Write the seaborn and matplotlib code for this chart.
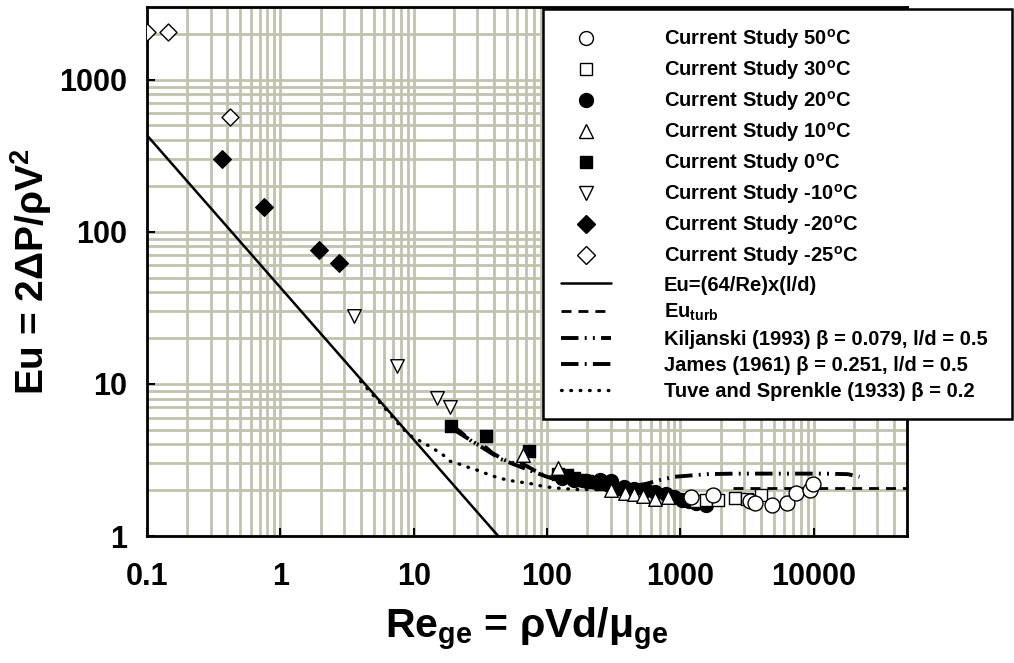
import numpy as np
import pandas as pd
import matplotlib
matplotlib.use("Agg")
import matplotlib.pyplot as plt
from matplotlib.lines import Line2D
import seaborn as sns

# ---------------- data ----------------
re_50 = [1200, 1750, 3300, 3650, 4900, 6300, 7300, 9400, 9800]
eu_50 = [1.80, 1.86, 1.70, 1.65, 1.60, 1.65, 1.92, 2.00, 2.20]

re_30 = [1300, 1550, 1900, 2550, 3150, 4000]
eu_30 = [1.70, 1.72, 1.73, 1.78, 1.76, 1.85]

re_20 = [130, 160, 200, 250, 300, 380, 450, 550, 650, 780, 900, 1020, 1150, 1300, 1550]
eu_20 = [2.40, 2.35, 2.30, 2.35, 2.30, 2.10, 2.05, 2.00, 1.95, 1.90, 1.80, 1.73, 1.70, 1.65, 1.60]

re_10 = [66, 120, 300, 385, 450, 525, 650, 800]
eu_10 = [3.40, 2.80, 2.00, 1.92, 1.90, 1.82, 1.75, 1.80]

re_0 = [19, 35, 73, 120, 140, 160, 180, 200, 230, 260, 300, 350]
eu_0 = [5.30, 4.55, 3.60, 2.55, 2.50, 2.40, 2.35, 2.30, 2.25, 2.20, 2.15, 2.05]

re_m10 = [3.57, 7.5, 15.0, 18.8]
eu_m10 = [28.0, 13.1, 8.1, 7.06]

re_m20 = [0.366, 0.755, 1.95, 2.76]
eu_m20 = [302, 146, 76, 62.5]

re_m25 = [0.100, 0.144, 0.42]
eu_m25 = [2040, 2040, 571]

lam_re = [0.1, 43]
lam_eu = [430, 1]

turb_re = [2500, 50000]
turb_eu = [2.07, 2.07]

kil_re = [19, 22, 28, 35, 39, 48, 57, 68, 79, 93, 120, 160, 220, 300, 400, 550, 700,
          900, 1200, 1600, 2500, 4000, 7000, 12000, 18000, 22000]
kil_eu = [5.3, 4.9, 4.1, 3.8, 3.5, 3.16, 3.0, 2.93, 2.72, 2.52, 2.35, 2.25, 2.15, 2.1,
          2.1, 2.2, 2.33, 2.45, 2.5, 2.55, 2.57, 2.57, 2.57, 2.57, 2.55, 2.45]

jam_re = [20, 30, 45, 70, 100, 150, 250, 400, 600]
jam_eu = [5.0, 4.0, 3.2, 2.75, 2.45, 2.2, 2.05, 1.95, 1.9]

tuv_re = [4, 6, 8.3, 10, 11.6, 13.7, 16.3, 18.8, 22, 26.5, 31.5, 37, 44, 51, 60, 72,
          84, 100, 130, 170, 220, 300, 400]
tuv_eu = [10.4, 7.0, 5.05, 4.4, 4.15, 3.8, 3.46, 3.1, 2.97, 2.8, 2.67, 2.52, 2.4, 2.33,
          2.27, 2.23, 2.16, 2.1, 2.05, 2.02, 2.02, 2.02, 2.0]

x_ticks = [0.1, 1, 10, 100, 1000, 10000]
x_ticklabels = ["0.1", "1", "10", "100", "1000", "10000"]
y_ticks = [1, 10, 100, 1000]
y_ticklabels = ["1", "10", "100", "1000"]

# ---------------- style ----------------
sns.set_theme(style="ticks")
plt.rcParams["font.family"] = ["Liberation Sans", "DejaVu Sans"]
plt.rcParams["font.weight"] = "bold"
plt.rcParams["mathtext.default"] = "regular"
for k in ["text.color", "axes.labelcolor", "xtick.color", "ytick.color", "axes.edgecolor"]:
    plt.rcParams[k] = "black"

grid_c = "#c2c2ae"

fig = plt.figure(figsize=(10.14, 6.63), dpi=100)
ax = fig.add_axes([147 / 1014, 1 - 536 / 663, (907 - 147) / 1014, (536 - 7) / 663])
ax.set_xscale("log")
ax.set_yscale("log")
ax.set_xlim(0.1, 50000)
ax.set_ylim(1, 3000)

ax.grid(True, which="both", color=grid_c, linewidth=2.0, zorder=0)
ax.set_axisbelow(True)

# ---------------- curves ----------------
def line(xs, ys, **kw):
    d = pd.DataFrame({"x": xs, "y": ys})
    sns.lineplot(data=d, x="x", y="y", ax=ax, sort=False, estimator=None,
                 color="black", legend=False, **kw)

line(lam_re, lam_eu, linewidth=1.8, zorder=3)
line(turb_re, turb_eu, linewidth=2.0, linestyle=(0, (3.6, 2.5)), zorder=3)
line(tuv_re, tuv_eu, linewidth=2.4, linestyle=(0, (0.2, 2.6)),
     dash_capstyle="round", zorder=3)
line(jam_re, jam_eu, linewidth=2.8, linestyle=(0, (4.5, 1.6, 0.5, 1.6)), zorder=3)
line(kil_re, kil_eu, linewidth=2.8, linestyle=(0, (4.5, 1.6, 0.5, 1.6, 0.5, 1.6)), zorder=3)

# ---------------- markers ----------------
def pts(xs, ys, marker, face, size, lw=1.0):
    d = pd.DataFrame({"x": xs, "y": ys})
    sns.scatterplot(data=d, x="x", y="y", ax=ax, marker=marker, s=size,
                    color=face, edgecolor="black", linewidth=lw, zorder=4,
                    legend=False)

pts(re_0, eu_0, "s", "black", 85)
pts(re_20, eu_20, "o", "black", 100)
pts(re_10, eu_10, "^", "white", 95)
pts(re_30, eu_30, "s", "white", 85)
pts(re_50, eu_50, "o", "white", 115)
pts(re_m10, eu_m10, "v", "white", 95)
pts(re_m20, eu_m20, "D", "black", 80)
pts(re_m25, eu_m25, "D", "white", 75)

# ---------------- axes formatting ----------------
ax.set_xticks(x_ticks)
ax.set_xticklabels(x_ticklabels)
ax.set_yticks(y_ticks)
ax.set_yticklabels(y_ticklabels)
ax.xaxis.set_minor_locator(matplotlib.ticker.LogLocator(base=10, subs=np.arange(2, 10)))
ax.yaxis.set_minor_locator(matplotlib.ticker.LogLocator(base=10, subs=np.arange(2, 10)))
ax.xaxis.set_minor_formatter(matplotlib.ticker.NullFormatter())
ax.yaxis.set_minor_formatter(matplotlib.ticker.NullFormatter())
ax.tick_params(which="minor", length=0)
ax.tick_params(which="major", direction="in", length=6, width=1.5,
               labelsize=22, color="black", labelcolor="black")
ax.tick_params(axis="x", which="major", pad=19)
ax.tick_params(axis="y", which="major", pad=14)
for lab in ax.get_xticklabels() + ax.get_yticklabels():
    lab.set_fontweight("bold")
for sp in ax.spines.values():
    sp.set_linewidth(2.0)
    sp.set_color("black")

ax.set_xlabel(r"Re$_{ge}$ = ρVd/μ$_{ge}$", fontsize=29.5, fontweight="bold",
              labelpad=10, color="black")
ax.set_ylabel(r"Eu = 2ΔP/ρV$^{2}$", fontsize=28, fontweight="bold",
              labelpad=4, color="black")

# ---------------- legend ----------------
def mk(marker, face, ms):
    return Line2D([], [], linestyle="none", marker=marker, markersize=ms,
                  markerfacecolor=face, markeredgecolor="black", markeredgewidth=1.0)

handles = [
    mk("o", "white", 10), mk("s", "white", 9), mk("o", "black", 10),
    mk("^", "white", 10), mk("s", "black", 9), mk("v", "white", 10),
    mk("D", "black", 9), mk("D", "white", 9),
    Line2D([], [], color="black", linewidth=1.8),
    Line2D([], [], color="black", linewidth=2.0, linestyle=(0, (3.6, 2.5))),
    Line2D([], [], color="black", linewidth=2.8,
           linestyle=(0, (4.5, 1.6, 0.5, 1.6, 0.5, 1.6))),
    Line2D([], [], color="black", linewidth=2.8, linestyle=(0, (4.5, 1.6, 0.5, 1.6))),
    Line2D([], [], color="black", linewidth=2.4, linestyle=(0, (0.2, 2.6)),
           dash_capstyle="round"),
]
labels = [
    "Current Study 50$^{o}$C", "Current Study 30$^{o}$C", "Current Study 20$^{o}$C",
    "Current Study 10$^{o}$C", "Current Study 0$^{o}$C", "Current Study -10$^{o}$C",
    "Current Study -20$^{o}$C", "Current Study -25$^{o}$C",
    "Eu=(64/Re)x(l/d)", "Eu$_{turb}$",
    "Kiljanski (1993) β = 0.079, l/d = 0.5",
    "James (1961) β = 0.251, l/d = 0.5",
    "Tuve and Sprenkle (1933) β = 0.2",
]
leg = ax.legend(handles, labels, loc="upper left",
                bbox_to_anchor=(543 / 1014, 1 - 417 / 663, (1012 - 543) / 1014, (417 - 9) / 663),
                bbox_transform=fig.transFigure, mode="expand", borderaxespad=0,
                prop={"family": ["Liberation Sans", "DejaVu Sans"], "weight": "bold", "size": 14.5},
                handlelength=2.5, handletextpad=2.6, labelspacing=0.35, borderpad=0.9,
                fancybox=False, framealpha=1, edgecolor="black", facecolor="white")
leg.get_frame().set_linewidth(1.8)
leg.set_zorder(10)
for t in leg.get_texts():
    t.set_color("black")

fig.savefig("out.png", dpi=100)
